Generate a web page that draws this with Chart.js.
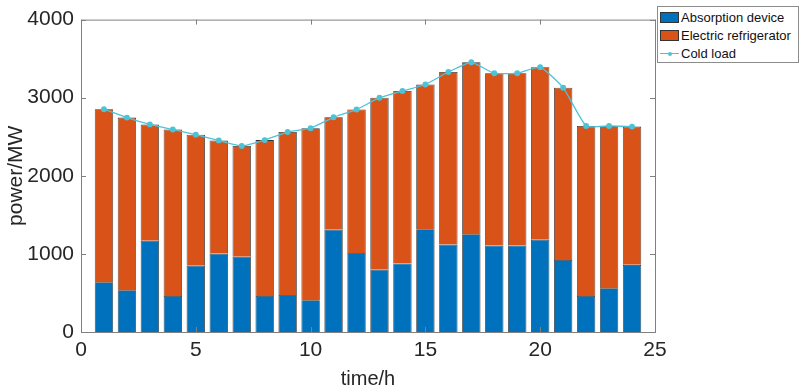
<!DOCTYPE html>
<html>
<head>
<meta charset="utf-8">
<script src="https://cdn.jsdelivr.net/npm/chart.js@4/dist/chart.umd.min.js"></script>
<style>
  body { margin: 0; background: #fff; }
  #wrap { position: relative; width: 800px; height: 391px; }
  #legend {
    position: absolute; left: 657px; top: 6px; width: 140px; height: 55px;
    border: 1px solid #8c8c8c; background: #fff;
    font-family: "Liberation Sans", Arial, sans-serif; font-size: 13px; color: #111;
  }
  .item { position: absolute; left: 2px; height: 18px; line-height: 18px; white-space: nowrap; }
  .sw { display: inline-block; width: 19px; height: 11px; vertical-align: -1px; margin-right: 2px; box-sizing: border-box; border: 1px solid #333; }
  .ln { display: inline-block; width: 19px; height: 11px; vertical-align: -1px; margin-right: 2px; position: relative; }
  .ln:before { content: ""; position: absolute; left: 0; right: 0; top: 5px; height: 1px; background: #4DC3D6; }
  .ln:after { content: ""; position: absolute; left: 8px; top: 3.5px; width: 4px; height: 4px; border-radius: 50%; background: #4DC3D6; }
</style>
</head>
<body>
<div id="wrap">
  <canvas id="res-canvas" width="800" height="391"></canvas>
  <div id="legend">
    <div class="item" style="top:2px"><span class="sw" style="background:#0072BD"></span>Absorption device</div>
    <div class="item" style="top:20px"><span class="sw" style="background:#D95319"></span>Electric refrigerator</div>
    <div class="item" style="top:38px"><span class="ln"></span>Cold load</div>
  </div>
</div>
<script>
// hours 1..24
const hours = [1, 2, 3, 4, 5, 6, 7, 8, 9, 10, 11, 12, 13, 14, 15, 16, 17, 18, 19, 20, 21, 22, 23, 24];
const absorption = [638, 535, 1169, 461, 848, 1004, 963, 461, 473, 407, 1309, 1012,
                    798, 877, 1317, 1119, 1251, 1107, 1107, 1181, 922, 461, 560, 860];
const coldLoad = [2852, 2745, 2658, 2593, 2527, 2453, 2383, 2457, 2560, 2609, 2749, 2848,
                  3000, 3086, 3169, 3329, 3453, 3313, 3313, 3391, 3128, 2638, 2638, 2630];
// electric part is whatever is left on top of the absorption part
const electric = coldLoad.map((v, i) => v - absorption[i]);
const xTicks = [0, 5, 10, 15, 20, 25];
const yTicks = [0, 1000, 2000, 3000, 4000];

const axisColor = '#808080';
const textColor = '#262626';
const font = '"Liberation Sans", Arial, sans-serif';

// box around the plot with inward ticks on all four sides (matlab style)
const boxPlugin = {
  id: 'box',
  afterDraw(chart) {
    const ctx = chart.ctx;
    const a = chart.chartArea;
    const xs = chart.scales.x, ys = chart.scales.y;
    ctx.save();
    ctx.strokeStyle = axisColor;
    ctx.lineWidth = 1;
    ctx.strokeRect(a.left + 0.5, a.top + 0.5, a.right - a.left, a.bottom - a.top);
    ctx.beginPath();
    xTicks.forEach(t => {
      let px = Math.round(xs.getPixelForValue(t)) + 0.5;
      ctx.moveTo(px, a.bottom); ctx.lineTo(px, a.bottom - 5);
      ctx.moveTo(px, a.top); ctx.lineTo(px, a.top + 5);
    });
    yTicks.forEach(t => {
      let py = Math.round(ys.getPixelForValue(t)) + 0.5;
      ctx.moveTo(a.left, py); ctx.lineTo(a.left + 5, py);
      ctx.moveTo(a.right, py); ctx.lineTo(a.right - 5, py);
    });
    ctx.stroke();
    ctx.restore();
  }
};

const ctx = document.getElementById('res-canvas').getContext('2d');
new Chart(ctx, {
  type: 'bar',
  data: {
    datasets: [
      {
        type: 'line',
        label: 'Cold load',
        data: hours.map((h, i) => ({ x: h, y: coldLoad[i] })),
        borderColor: '#4DC3D6',
        backgroundColor: '#4DC3D6',
        borderWidth: 1.3,
        pointRadius: 2.3,
        pointHoverRadius: 2.3,
        tension: 0.15,
        stack: 'load',
        order: 0
      },
      {
        label: 'Absorption device',
        data: hours.map((h, i) => ({ x: h, y: absorption[i] })),
        backgroundColor: '#0072BD',
        borderColor: '#333333',
        borderWidth: 0.8,
        barPercentage: 0.8,
        categoryPercentage: 1.0,
        stack: 'bars',
        order: 1
      },
      {
        label: 'Electric refrigerator',
        data: hours.map((h, i) => ({ x: h, y: electric[i] })),
        backgroundColor: '#D95319',
        borderColor: '#333333',
        borderWidth: 0.8,
        barPercentage: 0.8,
        categoryPercentage: 1.0,
        stack: 'bars',
        order: 1
      }
    ]
  },
  options: {
    responsive: false,
    animation: false,
    layout: { padding: { top: 8, right: 145, left: 0, bottom: 0 } },
    plugins: { legend: { display: false }, tooltip: { enabled: false } },
    scales: {
      x: {
        type: 'linear',
        stacked: true,
        offset: false,
        min: 0, max: 25,
        afterBuildTicks: s => { s.ticks = xTicks.map(v => ({ value: v })); },
        afterFit: s => { s.height = 59; },
        grid: { display: false, drawTicks: false, offset: false },
        border: { display: false },
        ticks: { color: textColor, font: { family: font, size: 21 }, padding: 6, maxRotation: 0,
                 callback: v => String(v) },
        title: { display: true, text: 'time/h', color: textColor, font: { family: font, size: 20 }, padding: { top: 0, bottom: 0 } }
      },
      y: {
        stacked: true,
        min: 0, max: 4000,
        afterBuildTicks: s => { s.ticks = yTicks.map(v => ({ value: v })); },
        afterFit: s => { s.width = 81; },
        grid: { display: false, drawTicks: false },
        border: { display: false },
        ticks: { color: textColor, font: { family: font, size: 21 }, padding: 7,
                 callback: v => String(v) },
        title: { display: true, text: 'power/MW', color: textColor, font: { family: font, size: 21 }, padding: { top: 4, bottom: 0 } }
      }
    }
  },
  plugins: [boxPlugin]
});
</script>
</body>
</html>
